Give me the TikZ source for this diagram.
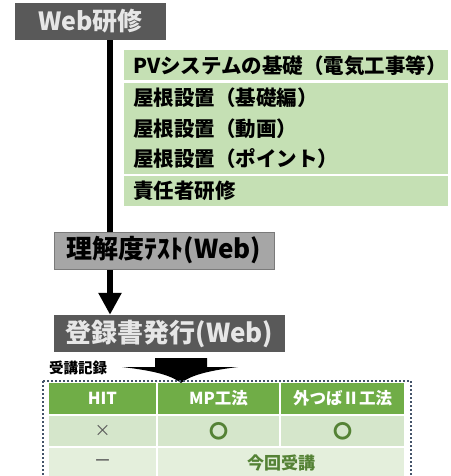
\documentclass[tikz,border=0pt]{standalone}
\usepackage{fontspec}
\usepackage{xcolor}
\newfontfamily\cjk{Noto Sans CJK JP}
\usetikzlibrary{arrows.meta}
\definecolor{stepdark}{HTML}{595959}
\definecolor{steptext}{HTML}{E6E6E6}
\definecolor{testgray}{HTML}{A6A6A6}
\definecolor{courseg}{HTML}{C5E0B4}
\definecolor{headg}{HTML}{70AD47}
\definecolor{rowa}{HTML}{D5E6CB}
\definecolor{rowb}{HTML}{E4EFDC}
\definecolor{markg}{HTML}{548235}
\definecolor{frameblue}{HTML}{44546A}

\begin{document}
\begin{tikzpicture}[x=1pt,y=-1pt,
  darkbox/.style={fill=stepdark,text=steptext,inner sep=0pt,minimum height=37pt,
    font=\cjk\bfseries\fontsize{25}{25}\selectfont},
  coursebox/.style={fill=courseg,anchor=west,minimum height=30pt,text width=306pt,
    inner xsep=9pt,inner ysep=0pt,align=left,font=\cjk\bfseries\fontsize{20.5}{20.5}\selectfont},
  cell/.style={inner sep=0pt,minimum height=30pt,font=\cjk\fontsize{16}{16}\selectfont},
  headcell/.style={cell,fill=headg,text=white,minimum height=31pt,font=\cjk\bfseries\fontsize{16.5}{16.5}\selectfont},
  okcell/.style={cell,text=markg,font=\cjk\bfseries\fontsize{19}{19}\selectfont}]
  \clip (0,0) rectangle (450,476);
  \useasboundingbox (0,0) rectangle (450,476);
  % flow
  \node[darkbox,minimum width=151pt] (web) at (90.5,21.5) {Web研修};
  \node[darkbox,minimum width=231pt,font=\cjk\bfseries\fontsize{26}{26}\selectfont] (reg) at (169.5,333.5) {登録書発行(Web)};
  \coordinate (trunk) at (110,0);
  \draw[line width=6pt,-{Triangle[width=22pt,length=22pt]}] (web.south -| trunk) -- (reg.north -| trunk);
  \node[darkbox,fill=testgray,draw=stepdark!80,line width=0.8pt,text=black,minimum width=220pt,font=\cjk\bfseries\fontsize{26}{26}\selectfont] (test) at (164,250.5) {理解度ﾃｽﾄ(Web)};
  % courses
  \foreach \name/\y/\txt in {c1/65.5/PVシステムの基礎（電気工事等）, c2/98/屋根設置（基礎編）,
      c3/128.5/屋根設置（動画）, c4/159/屋根設置（ポイント）, c5/191/責任者研修}
    \node[coursebox] (\name) at (124,\y) {\txt};
  % record
  \node[anchor=west,inner sep=0pt,font=\cjk\bfseries\fontsize{14.5}{14.5}\selectfont] (rec) at (49,368) {受講記録};
  \fill (155,358) -- (207,358) -- (207,367) -- (238,367) .. controls (205,371) and (190,376) .. (181,383)
    .. controls (172,376) and (157,371) .. (122,367) -- (155,367) -- cycle;
  \node[headcell,minimum width=107pt] (h1) at (102.5,398.5) {HIT};
  \node[headcell,minimum width=121pt] (h2) at (218.5,398.5) {MP工法};
  \node[headcell,minimum width=123pt] (h3) at (342.5,398.5) {外つばⅡ工法};
  \node[cell,fill=rowa,text=stepdark,minimum width=107pt] (a1) at (102.5,431) {×};
  \node[okcell,fill=rowa,minimum width=121pt] (a2) at (218.5,431) {〇};
  \node[okcell,fill=rowa,minimum width=123pt] (a3) at (342.5,431) {〇};
  \node[cell,fill=rowb,text=stepdark,minimum width=107pt] (b1) at (102.5,463) {ー};
  \node[cell,fill=rowb,text=markg,minimum width=246pt,font=\cjk\bfseries\fontsize{17}{17}\selectfont] (b2) at (281,463) {今回受講};
  \draw[frameblue,line width=2pt,dotted] (43,381) rectangle (411,490);
\end{tikzpicture}
\end{document}
